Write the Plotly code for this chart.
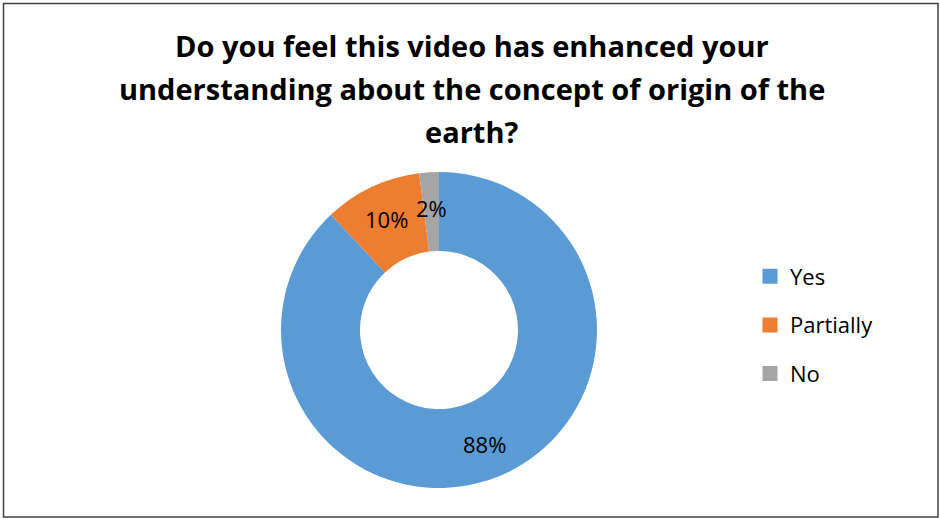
import math
import plotly.graph_objects as go

categories = ["Yes", "Partially", "No"]
values = [88, 10, 2]
colors = ["#5B9BD5", "#ED7D31", "#A5A5A5"]
title_lines = [
    "Do you feel this video has enhanced your",
    "understanding about the concept of origin of the",
    "earth?",
]

W, H = 940, 519
FONT = "Open Sans"

# pie geometry (pixels)
CX, CY, R_OUT = 439, 330, 158
HOLE = 0.5
R_LABEL = (R_OUT * (1 + HOLE)) / 2 + 4

fig = go.Figure()

fig.add_trace(go.Pie(
    labels=categories,
    values=values,
    marker=dict(colors=colors, line=dict(width=0)),
    hole=HOLE,
    sort=False,
    direction="clockwise",
    rotation=0,
    textinfo="none",
    showlegend=False,
    hoverinfo="label+percent",
    domain=dict(x=[(CX - R_OUT) / W, (CX + R_OUT) / W],
                y=[1 - (CY + R_OUT) / H, 1 - (CY - R_OUT) / H]),
))

# percentage labels at the middle of each ring segment
total = sum(values)
cum = 0
for v in values:
    mid = (cum + v / 2) / total * 2 * math.pi  # clockwise from 12 o'clock
    cum += v
    px = CX + R_LABEL * math.sin(mid)
    py = CY - R_LABEL * math.cos(mid)
    fig.add_annotation(
        text=f"{round(100 * v / total)}%", x=px / W, y=1 - py / H,
        xref="paper", yref="paper", xanchor="center", yanchor="middle",
        showarrow=False, font=dict(family=FONT, size=22, color="#000000"),
    )

# legend entries from the categories
for cat, col in zip(categories, colors):
    fig.add_trace(go.Scatter(
        x=[None], y=[None], mode="markers", name=cat,
        marker=dict(symbol="square", size=15, color=col),
        legendgroup=cat, showlegend=True, hoverinfo="skip",
    ))

title_y = [45, 88, 131]
for line, yy in zip(title_lines, title_y):
    fig.add_annotation(
        text=f"<b>{line}</b>", x=472 / W, y=1 - yy / H,
        xref="paper", yref="paper", xanchor="center", yanchor="middle",
        showarrow=False, font=dict(family=FONT, size=29, color="#000000"),
    )

fig.add_shape(type="rect", xref="paper", yref="paper",
              x0=3.5 / W, x1=938 / W, y0=1 - 517 / H, y1=1 - 3.5 / H,
              line=dict(color="#404040", width=1.5))

fig.update_layout(
    width=W, height=H,
    margin=dict(l=0, r=0, t=0, b=0),
    paper_bgcolor="white", plot_bgcolor="white",
    xaxis=dict(visible=False, domain=[0, 1]),
    yaxis=dict(visible=False, domain=[0, 1]),
    legend=dict(
        x=750 / W, y=1 - 325 / H, xanchor="left", yanchor="middle",
        font=dict(family=FONT, size=22, color="#000000"),
        tracegroupgap=17, bgcolor="rgba(0,0,0,0)",
    ),
)

fig.write_html("out.html", config={"displayModeBar": False},
               post_script="document.body.style.margin='0';")
